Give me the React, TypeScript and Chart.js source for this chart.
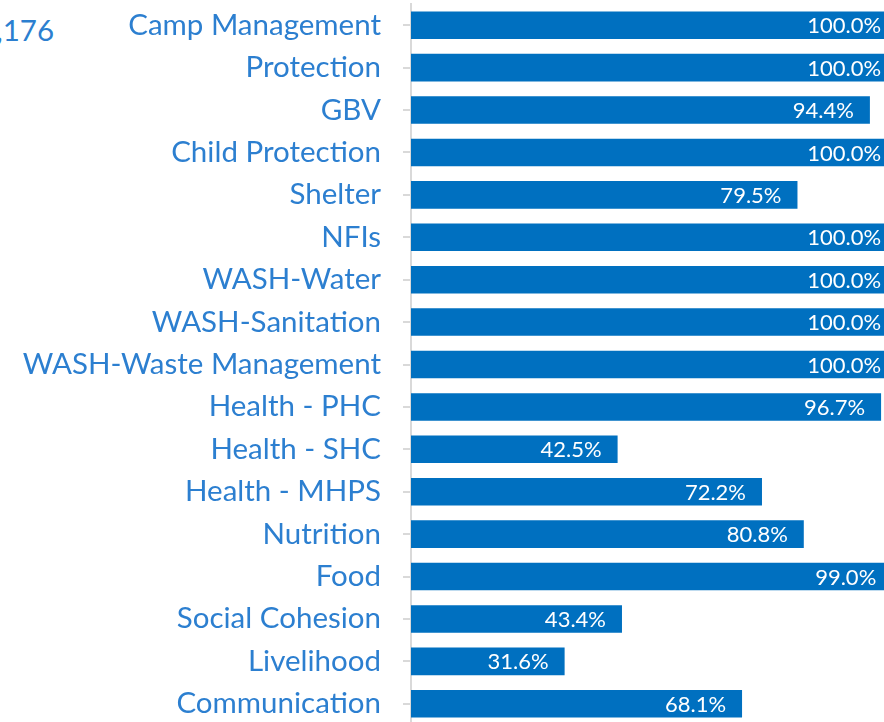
import React, { useEffect, useRef } from "react";
import { Chart, registerables } from "chart.js";

Chart.register(...registerables);

const categories = [
  "Camp Management",
  "Protection",
  "GBV",
  "Child Protection",
  "Shelter",
  "NFIs",
  "WASH-Water",
  "WASH-Sanitation",
  "WASH-Waste Management",
  "Health - PHC",
  "Health - SHC",
  "Health - MHPS",
  "Nutrition",
  "Food",
  "Social Cohesion",
  "Livelihood",
  "Communication",
];

const coverage = [
  100.0, 100.0, 94.4, 100.0, 79.5, 100.0, 100.0, 100.0, 100.0, 96.7, 42.5, 72.2,
  80.8, 99.0, 43.4, 31.6, 68.1,
];

const cornerText = ",176";

const BAR_COLOR = "#0070C0";
const LABEL_COLOR = "#2C7FD0";
const FONT = "Lato, 'Noto Sans', sans-serif";

const valueLabels = {
  id: "valueLabels",
  afterDatasetsDraw(chart: any) {
    const ctx = chart.ctx;
    const meta = chart.getDatasetMeta(0);
    ctx.save();
    ctx.fillStyle = "#FFFFFF";
    ctx.font = `22px ${FONT}`;
    ctx.textAlign = "right";
    ctx.textBaseline = "middle";
    meta.data.forEach((bar: any, i: number) => {
      const v = chart.data.datasets[0].data[i] as number;
      ctx.fillText(v.toFixed(1) + "%", bar.x - 16, bar.y + 1);
    });
    ctx.restore();
  },
};

export default function App() {
  const canvasRef = useRef<HTMLCanvasElement | null>(null);

  useEffect(() => {
    if (!canvasRef.current) return;
    const chart = new Chart(canvasRef.current, {
      type: "bar",
      data: {
        labels: categories,
        datasets: [
          {
            data: coverage,
            backgroundColor: BAR_COLOR,
            borderWidth: 0,
            barPercentage: 0.65,
            categoryPercentage: 1,
          },
        ],
      },
      options: {
        indexAxis: "y",
        animation: false,
        responsive: true,
        maintainAspectRatio: false,
        layout: { padding: { top: 4, bottom: 1, left: 0, right: 0 } },
        plugins: {
          legend: { display: false },
          tooltip: { enabled: false },
          title: { display: false },
        },
        scales: {
          x: {
            display: false,
            min: 0,
            max: 97.3,
          },
          y: {
            afterFit(scale: any) {
              scale.width = 411;
              scale.paddingTop = 0;
              scale.paddingBottom = 0;
            },
            grid: {
              offset: false,
              drawOnChartArea: false,
              drawTicks: true,
              tickLength: 8,
              color: "#D9D9D9",
              lineWidth: 2,
            },
            border: { display: true, color: "#D9D9D9", width: 2 },
            ticks: {
              autoSkip: false,
              padding: 22,
              color: LABEL_COLOR,
              font: { family: FONT, size: 29.5 },
            },
          },
        },
      },
      plugins: [valueLabels],
    });
    return () => chart.destroy();
  }, []);

  return (
    <div
      style={{
        position: "fixed",
        left: 0,
        top: 0,
        width: 884,
        height: 722,
        overflow: "hidden",
        background: "#FFFFFF",
      }}
    >
      <span
        style={{
          position: "absolute",
          right: 830,
          top: 12,
          fontFamily: FONT,
          fontSize: 29.5,
          lineHeight: "normal",
          color: LABEL_COLOR,
          whiteSpace: "nowrap",
        }}
      >
        {cornerText}
      </span>
      <div style={{ position: "absolute", left: 0, top: 0, width: 884, height: 726 }}>
        <canvas ref={canvasRef} />
      </div>
    </div>
  );
}
